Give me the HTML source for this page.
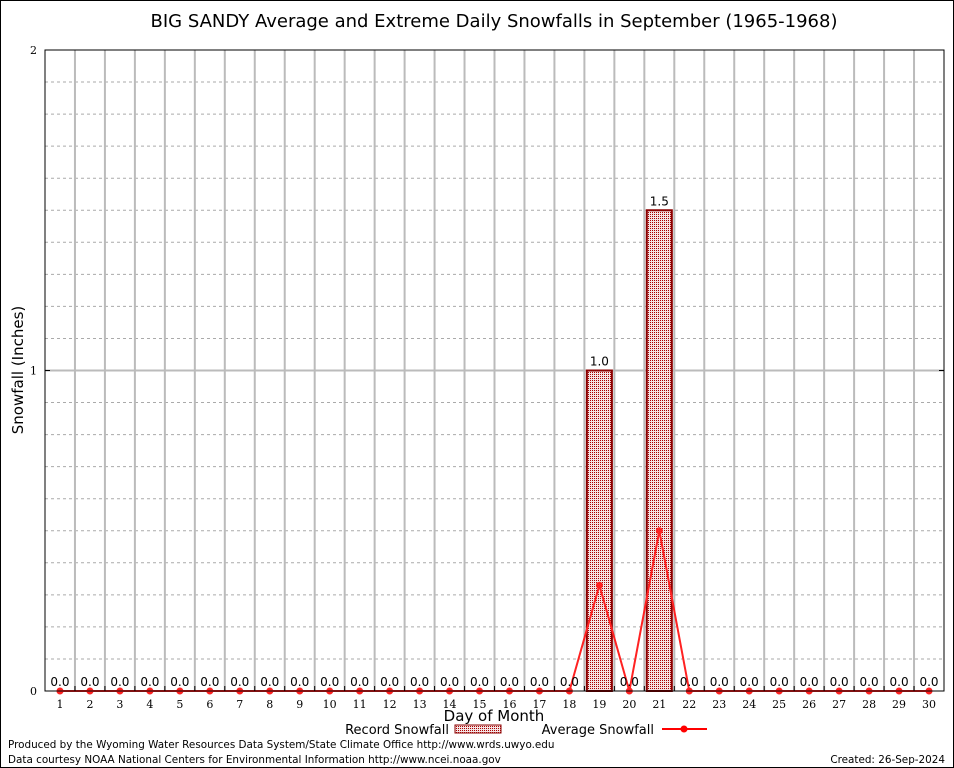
<!DOCTYPE html>
<html><head><meta charset="utf-8"><style>
body{margin:0;background:#fff}
svg{display:block}
text{font-family:"DejaVu Sans","Liberation Sans",sans-serif}
.t{font-family:"DejaVu Serif","Liberation Serif",serif;font-size:11px}
</style></head><body>
<svg id="c" width="954" height="768" xmlns="http://www.w3.org/2000/svg">
<rect x="0.5" y="0.5" width="953" height="767" fill="#fff" stroke="#000"/>
<text x="494" y="27" font-size="18" text-anchor="middle">BIG SANDY Average and Extreme Daily Snowfalls in September (1965-1968)</text>
<g id="grid"></g>
<g id="bars"></g>
<g id="avg"></g>
<g id="labels"></g>
<rect x="45" y="50" width="899" height="641" fill="none" stroke="#000"/>
<g id="axes"></g>
<text x="23" y="370" font-size="15" text-anchor="middle" transform="rotate(-90 23 370)">Snowfall (Inches)</text>
<text x="494" y="721" font-size="15" text-anchor="middle">Day of Month</text>
<g>
<text x="449" y="734" font-size="13" text-anchor="end">Record Snowfall</text>
<rect x="455" y="725" width="46" height="8" fill="url(#chk)" stroke="#8b0000"/>
</g>
<g>
<text x="654" y="734" font-size="13" text-anchor="end">Average Snowfall</text>
<line x1="662" y1="729" x2="707" y2="729" stroke="#f00" stroke-width="2"/>
<circle cx="684" cy="729" r="3.5" fill="#f00"/>
</g>
<text x="8" y="748" font-size="10.4">Produced by the Wyoming Water Resources Data System/State Climate Office http://www.wrds.uwyo.edu</text>
<text x="8" y="763" font-size="10.4">Data courtesy NOAA National Centers for Environmental Information http://www.ncei.noaa.gov</text>
<text x="945" y="763" font-size="10.4" text-anchor="end">Created:  26-Sep-2024</text>
</svg>
<script>
const days=[1,2,3,4,5,6,7,8,9,10,11,12,13,14,15,16,17,18,19,20,21,22,23,24,25,26,27,28,29,30];
const recordVals=[0,0,0,0,0,0,0,0,0,0,0,0,0,0,0,0,0,0,1.0,0,1.5,0,0,0,0,0,0,0,0,0];
const avgVals=[0,0,0,0,0,0,0,0,0,0,0,0,0,0,0,0,0,0,0.33,0,0.5,0,0,0,0,0,0,0,0,0];
const yTicks=[0,1,2];
const NS="http://www.w3.org/2000/svg";
const L=45,R=944,T=50,B=691,yMax=2;
const bw=(R-L)/days.length;
const xS=d=>L+(d-0.5)*bw;
const yS=v=>B-v/yMax*(B-T);
function mk(p,tag,a){const e=document.createElementNS(NS,tag);for(const k in a)e.setAttribute(k,a[k]);document.getElementById(p).appendChild(e);return e;}
const defs=document.createElementNS(NS,'defs');
defs.innerHTML='<pattern id="chk" width="2" height="2" patternUnits="userSpaceOnUse"><rect width="2" height="2" fill="#f4e4e4"/><rect width="1" height="1" fill="#a00"/></pattern>';
document.getElementById('c').prepend(defs);
for(let i=1;i<=19;i++){const v=i*0.1;if(i===10)continue;
 const e=mk('grid','line',{x1:L,x2:R,y1:yS(v),y2:yS(v),stroke:'#aaa','stroke-dasharray':'3,3'});
 }
for(let i=1;i<days.length;i++){const e=mk('grid','line',{x1:L+i*bw,x2:L+i*bw,y1:T,y2:B,stroke:'#bbb','stroke-width':2});
 }
{const e=mk('grid','line',{x1:L,x2:R,y1:yS(1),y2:yS(1),stroke:'#bbb','stroke-width':2});
 }
days.forEach((d,i)=>{const v=recordVals[i];
 if(v>0){const e=mk('bars','rect',{x:xS(d)-12.5,y:yS(v),width:25,height:yS(0)-yS(v),fill:'url(#chk)',stroke:'#8b0000','stroke-width':2});
  }
 const t=mk('labels','text',{x:xS(d),y:yS(v)-5,'font-size':12,'text-anchor':'middle'});t.textContent=v.toFixed(1);
 
 const tk=mk('axes','text',{x:xS(d),y:B+17,class:'t','text-anchor':'middle'});tk.textContent=d;
 
 mk('axes','line',{x1:L+i*bw,x2:L+i*bw,y1:B,y2:B-5,stroke:'#000'});
});
yTicks.forEach(v=>{const t=mk('axes','text',{x:L-8,y:yS(v)+4,class:'t','text-anchor':'end'});t.textContent=v;
 
 mk('axes','line',{x1:L,x2:L+5,y1:yS(v),y2:yS(v),stroke:'#000'});mk('axes','line',{x1:R,x2:R-5,y1:yS(v),y2:yS(v),stroke:'#000'});});
const pl=mk('avg','polyline',{points:days.map((d,i)=>xS(d)+','+yS(avgVals[i])).join(' '),fill:'none',stroke:'#f22','stroke-width':2});

days.forEach((d,i)=>{const c=mk('avg','circle',{cx:xS(d),cy:yS(avgVals[i]),r:3.5,fill:'#f22'});
 });
</script>
</body></html>
